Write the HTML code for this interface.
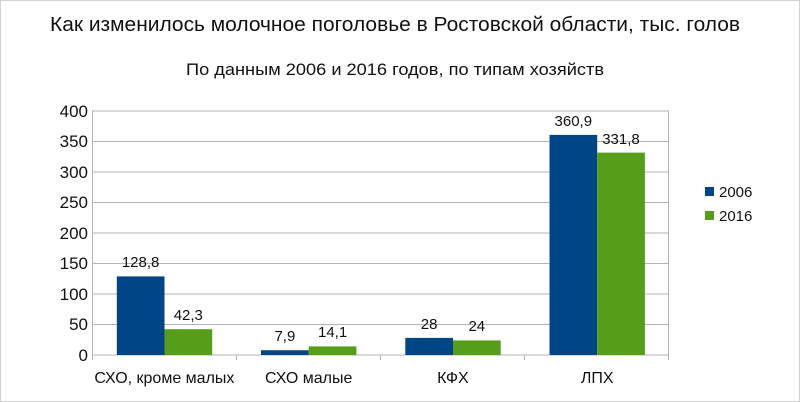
<!DOCTYPE html>
<html><head><meta charset="utf-8"><style>
html,body{margin:0;padding:0;background:#fff;}
svg{display:block;}
text{font-family:"Liberation Sans","DejaVu Sans",sans-serif;fill:#111;}
</style></head><body>
<svg width="800" height="402" viewBox="0 0 800 402" xmlns="http://www.w3.org/2000/svg">
<rect x="0.5" y="0.5" width="799" height="401" fill="#fff" stroke="#d0d0d0"/>
<text x="395" y="31" font-size="20" text-anchor="middle" textLength="690" lengthAdjust="spacingAndGlyphs">Как изменилось молочное поголовье в Ростовской области, тыс. голов</text>
<text x="395" y="75" font-size="17" text-anchor="middle" textLength="418" lengthAdjust="spacingAndGlyphs">По данным 2006 и 2016 годов, по типам хозяйств</text>
<g stroke="#b3b3b3" stroke-width="1">
<line x1="92" y1="111" x2="669" y2="111"/>
<line x1="92" y1="141.5" x2="669" y2="141.5"/>
<line x1="92" y1="172" x2="669" y2="172"/>
<line x1="92" y1="202.5" x2="669" y2="202.5"/>
<line x1="92" y1="233" x2="669" y2="233"/>
<line x1="92" y1="263.5" x2="669" y2="263.5"/>
<line x1="92" y1="294" x2="669" y2="294"/>
<line x1="92" y1="324.5" x2="669" y2="324.5"/>
<line x1="92" y1="355" x2="669" y2="355"/>
<line x1="92.5" y1="111" x2="92.5" y2="360"/>
<line x1="668.5" y1="111" x2="668.5" y2="360"/>
<line x1="236.5" y1="355" x2="236.5" y2="360"/>
<line x1="380.5" y1="355" x2="380.5" y2="360"/>
<line x1="524.5" y1="355" x2="524.5" y2="360"/>
</g>
<g font-size="17" text-anchor="end">
<text x="88" y="117">400</text><text x="88" y="147">350</text><text x="88" y="178">300</text>
<text x="88" y="208">250</text><text x="88" y="239">200</text><text x="88" y="269">150</text>
<text x="88" y="300">100</text><text x="88" y="330">50</text><text x="88" y="361">0</text>
</g>
<g fill="#004586">
<rect x="116.8" y="276.4" width="47.7" height="78.6"/>
<rect x="261" y="350.2" width="47.7" height="4.8"/>
<rect x="405.3" y="337.9" width="47.7" height="17.1"/>
<rect x="549.5" y="134.9" width="47.7" height="220.1"/>
</g>
<g fill="#579d1c">
<rect x="164.5" y="329.2" width="47.7" height="25.8"/>
<rect x="308.7" y="346.4" width="47.7" height="8.6"/>
<rect x="453" y="340.4" width="47.7" height="14.6"/>
<rect x="597.2" y="152.6" width="47.7" height="202.4"/>
</g>
<g font-size="15" text-anchor="middle">
<text x="140.6" y="267">128,8</text><text x="188.3" y="320">42,3</text>
<text x="284.9" y="341">7,9</text><text x="332.6" y="337">14,1</text>
<text x="429.1" y="329">28</text><text x="476.8" y="331">24</text>
<text x="573.3" y="126">360,9</text><text x="621" y="144">331,8</text>
</g>
<g font-size="16" text-anchor="middle">
<text x="164.4" y="383">СХО, кроме малых</text>
<text x="308.7" y="383">СХО малые</text>
<text x="452.9" y="383">КФХ</text>
<text x="597.2" y="383">ЛПХ</text>
</g>
<rect x="705" y="187" width="9" height="9" fill="#004586"/>
<rect x="705" y="211" width="9" height="9" fill="#579d1c"/>
<text x="719" y="197" font-size="15">2006</text>
<text x="719" y="221" font-size="15">2016</text>
</svg>
</body></html>
